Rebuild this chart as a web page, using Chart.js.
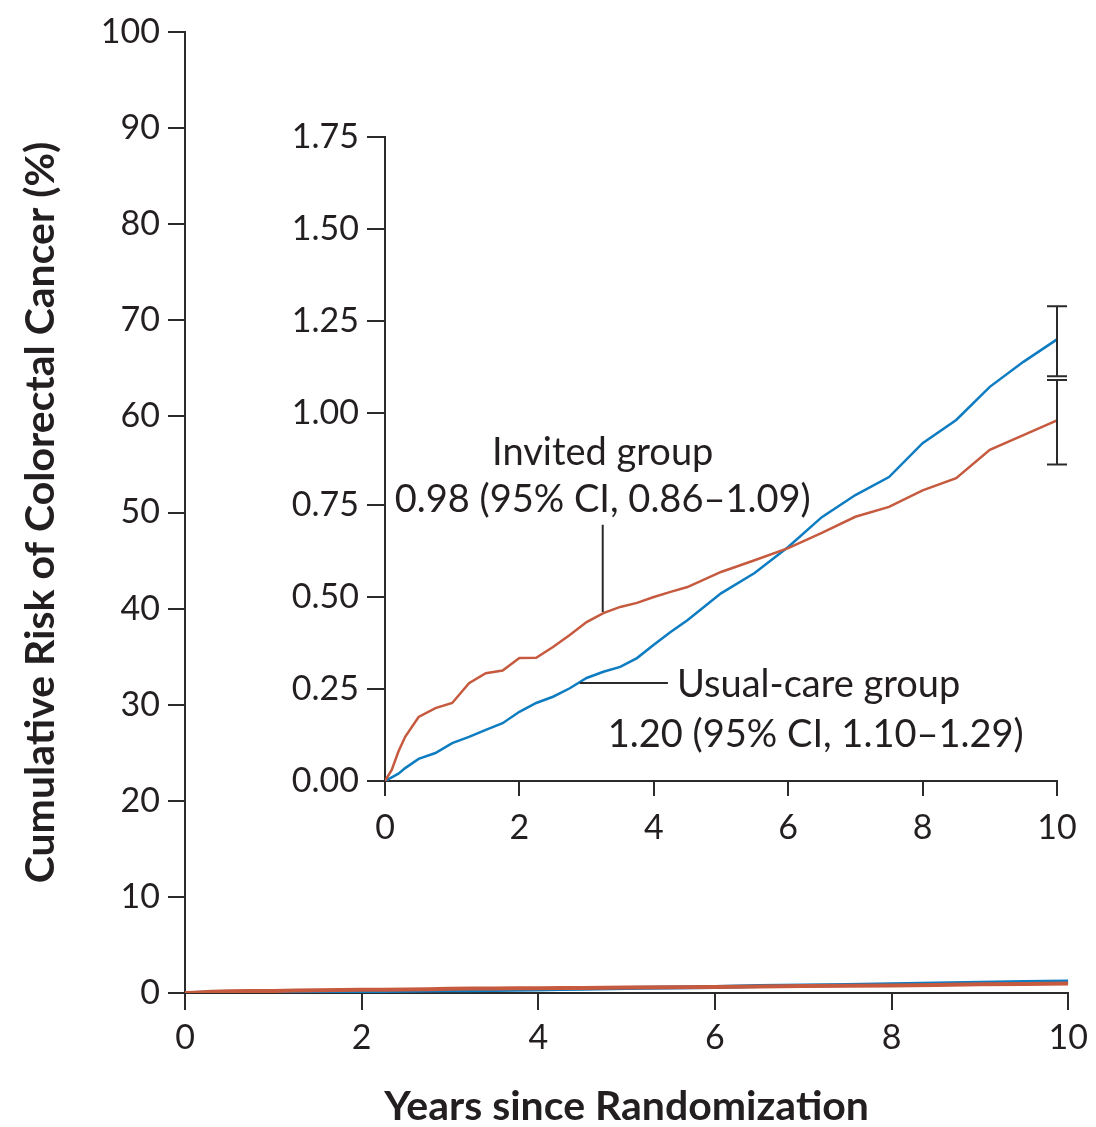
<!DOCTYPE html>
<html><head><meta charset="utf-8">
<script src="https://cdn.jsdelivr.net/npm/chart.js@4/dist/chart.umd.min.js"></script>
<style>
html,body{margin:0;padding:0;background:#fff;}
#wrap{position:relative;width:1096px;height:1127px;}
canvas{position:absolute;left:0;top:0;}
</style>
</head><body>
<div id="wrap">
<canvas id="main" width="1096" height="1127"></canvas>
<canvas id="inset" width="1096" height="1127"></canvas>
</div>
<script>
// ---- data ----
const years = [0,0.1,0.2,0.3,0.5,0.75,1.0,1.25,1.5,1.75,2.0,2.25,2.5,2.75,3.0,3.25,3.5,3.75,4.0,4.25,4.5,5.0,5.5,6.0,6.5,7.0,7.5,8.0,8.5,9.0,9.5,10];
const invitedRisk = [0,0.03,0.08,0.12,0.174,0.198,0.212,0.266,0.293,0.30,0.334,0.335,0.364,0.397,0.432,0.456,0.473,0.484,0.50,0.514,0.527,0.568,0.60,0.633,0.674,0.718,0.745,0.79,0.823,0.90,0.94,0.98];
const usualRisk   = [0,0.01,0.02,0.035,0.06,0.076,0.103,0.12,0.139,0.157,0.188,0.212,0.229,0.252,0.28,0.297,0.31,0.334,0.37,0.405,0.437,0.51,0.565,0.636,0.717,0.777,0.826,0.918,0.981,1.071,1.139,1.20];
const invitedCI = [0.86, 1.09];
const usualCI = [1.10, 1.29];
const ciYear = 10;
const invitedLabel = ['Invited group', '0.98 (95% CI, 0.86\u20131.09)'];
const usualLabel = ['Usual-care group', '1.20 (95% CI, 1.10\u20131.29)'];
const mainYTicks = [0,10,20,30,40,50,60,70,80,90,100];
const insetYTicks = [0,0.25,0.5,0.75,1.0,1.25,1.5,1.75];
const xTicks = [0,2,4,6,8,10];
const xTitle = 'Years since Randomization';
const yTitle = 'Cumulative Risk of Colorectal Cancer (%)';

// ---- styles ----
const RED = '#c65a3f', BLUE = '#0e7cc1', INK = '#231f20', AXIS = '#2b2b2b';
const FONT = 'Lato, "Open Sans", sans-serif';
Chart.defaults.font.family = FONT;
Chart.defaults.color = INK;

const pts = arr => years.map((t,i)=>({x:t, y:arr[i]}));

function axisCommon(min,max,tickVals,tickLen,pad,fmt){
  return {
    type:'linear', min:min, max:max,
    afterBuildTicks: s => { s.ticks = tickVals.map(v=>({value:v})); },
    ticks:{ font:{size:34}, color:INK, padding:pad, callback: fmt },
    grid:{ drawOnChartArea:false, drawTicks:true, tickLength:tickLen, color:AXIS, lineWidth:2 },
    border:{ display:true, color:AXIS, width:2 }
  };
}

// ---- main chart ----
const mainX = axisCommon(0,10,xTicks,17,8,v=>String(v));
mainX.afterFit = s => { s.height = 1127-993; };
mainX.title = { display:true, text:xTitle, font:{size:41, weight:'bold', lineHeight:1.0}, color:INK, padding:{top:0,bottom:0} };
const mainY = axisCommon(0,100,mainYTicks,17,8,v=>String(v));
mainY.afterFit = s => { s.width = 185; };
mainY.title = { display:true, text:yTitle, font:{size:41, weight:'bold', lineHeight:1.0}, color:INK, padding:{top:20,bottom:0} };

new Chart(document.getElementById('main'), {
  type:'line',
  data:{ datasets:[
    { label:'Invited group', data:pts(invitedRisk), borderColor:RED, borderWidth:4, pointRadius:0, tension:0 },
    { label:'Usual-care group', data:pts(usualRisk), borderColor:BLUE, borderWidth:4, pointRadius:0, tension:0 }
  ]},
  options:{
    responsive:false, animation:false, devicePixelRatio:1, events:[],
    layout:{ padding:{ left:0, top:32, right:24, bottom:0 } },
    plugins:{ legend:{display:false}, tooltip:{enabled:false} },
    scales:{ x:mainX, y:mainY }
  }
});

// ---- inset chart ----
const annot = {
  id:'annot',
  afterDatasetsDraw(chart){
    const {ctx, scales:{x,y}} = chart;
    ctx.save();
    // CI bars
    ctx.strokeStyle = AXIS; ctx.lineWidth = 2;
    const cx = x.getPixelForValue(ciYear);
    [usualCI, invitedCI].forEach(ci=>{
      const y0 = y.getPixelForValue(ci[0]), y1 = y.getPixelForValue(ci[1]);
      ctx.beginPath();
      ctx.moveTo(cx, y0); ctx.lineTo(cx, y1);
      ctx.moveTo(cx-10, y0); ctx.lineTo(cx+10, y0);
      ctx.moveTo(cx-10, y1); ctx.lineTo(cx+10, y1);
      ctx.stroke();
    });
    // leader lines
    ctx.lineWidth = 2; ctx.strokeStyle = AXIS;
    ctx.beginPath();
    ctx.moveTo(x.getPixelForValue(3.24), y.getPixelForValue(0.696));
    ctx.lineTo(x.getPixelForValue(3.24), y.getPixelForValue(0.459));
    ctx.moveTo(x.getPixelForValue(2.9), y.getPixelForValue(0.266));
    ctx.lineTo(x.getPixelForValue(4.21), y.getPixelForValue(0.266));
    ctx.stroke();
    // labels
    ctx.fillStyle = INK; ctx.font = '38px ' + FONT; ctx.textBaseline = 'middle';
    ctx.textAlign = 'center';
    ctx.fillText(invitedLabel[0], x.getPixelForValue(3.24), y.getPixelForValue(0.891));
    ctx.fillText(invitedLabel[1], x.getPixelForValue(3.24), y.getPixelForValue(0.764));
    ctx.textAlign = 'left';
    ctx.fillText(usualLabel[0], x.getPixelForValue(4.345), y.getPixelForValue(0.261));
    ctx.textAlign = 'center';
    ctx.fillText(usualLabel[1], x.getPixelForValue(6.41), y.getPixelForValue(0.125));
    ctx.restore();
  }
};

const insX = axisCommon(0,10,xTicks,15,12,v=>String(v));
insX.afterFit = s => { s.height = 1127-781; };
const insY = axisCommon(0,1.75,insetYTicks,18,8,v=>Number(v).toFixed(2));
insY.afterFit = s => { s.width = 385; };

new Chart(document.getElementById('inset'), {
  type:'line',
  data:{ datasets:[
    { label:'Invited group', data:pts(invitedRisk), borderColor:RED, borderWidth:2.5, pointRadius:0, tension:0 },
    { label:'Usual-care group', data:pts(usualRisk), borderColor:BLUE, borderWidth:2.5, pointRadius:0, tension:0 }
  ]},
  options:{
    responsive:false, animation:false, devicePixelRatio:1, events:[],
    layout:{ padding:{ left:0, top:137, right:39, bottom:0 } },
    plugins:{ legend:{display:false}, tooltip:{enabled:false} },
    scales:{ x:insX, y:insY }
  },
  plugins:[annot]
});
</script>
</body></html>
